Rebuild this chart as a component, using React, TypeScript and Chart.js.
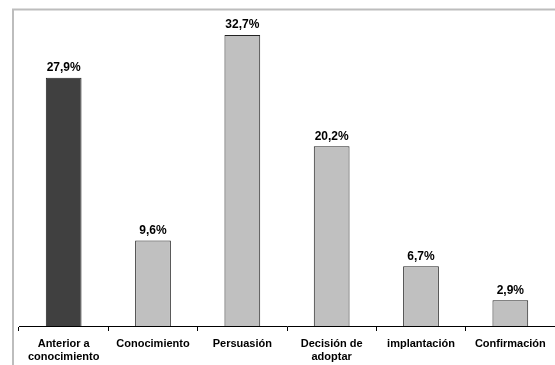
import React, { useEffect, useRef } from "react";
import { Chart, registerables } from "chart.js";

Chart.register(...registerables);

const categories: (string | string[])[] = [
  ["Anterior a", "conocimiento"],
  "Conocimiento",
  "Persuasión",
  ["Decisión de", "adoptar"],
  "implantación",
  "Confirmación",
];
const values: number[] = [27.9, 9.6, 32.7, 20.2, 6.7, 2.9];
const barColors: string[] = ["#404040", "#c0c0c0", "#c0c0c0", "#c0c0c0", "#c0c0c0", "#c0c0c0"];

const FONT = "'Liberation Sans', Arial, sans-serif";

const framePlugin = {
  id: "frame",
  beforeDraw(chart: any) {
    const ctx = chart.ctx;
    ctx.save();
    ctx.strokeStyle = "#bdbdbd";
    ctx.lineWidth = 2;
    ctx.beginPath();
    ctx.moveTo(13, chart.height);
    ctx.lineTo(13, 9.5);
    ctx.lineTo(chart.width, 9.5);
    ctx.stroke();
    ctx.restore();
  },
};

const labelPlugin = {
  id: "valueLabels",
  afterDatasetsDraw(chart: any) {
    const ctx = chart.ctx;
    const meta = chart.getDatasetMeta(0);
    ctx.save();
    ctx.font = `bold 12px ${FONT}`;
    ctx.fillStyle = "#000";
    ctx.textAlign = "center";
    ctx.textBaseline = "bottom";
    meta.data.forEach((bar: any, i: number) => {
      const txt = values[i].toFixed(1).replace(".", ",") + "%";
      ctx.fillText(txt, bar.x, bar.y - 4);
    });
    ctx.restore();
  },
};

export default function App() {
  const ref = useRef<HTMLCanvasElement | null>(null);
  useEffect(() => {
    if (!ref.current) return;
    const chart = new Chart(ref.current, {
      type: "bar",
      data: {
        labels: categories,
        datasets: [
          {
            data: values,
            backgroundColor: barColors,
            borderColor: "#222",
            borderWidth: 1,
            barPercentage: 0.4,
            categoryPercentage: 1,
          },
        ],
      },
      options: {
        responsive: false,
        animation: false,
        maintainAspectRatio: false,
        layout: { padding: { left: 19, right: 0, top: 14.5, bottom: 0 } },
        plugins: { legend: { display: false }, tooltip: { enabled: false } },
        scales: {
          y: { display: false, min: 0, max: 35 },
          x: {
            offset: true,
            border: { display: true, color: "#000", width: 1 },
            grid: { drawOnChartArea: false, drawTicks: true, tickLength: 5, color: "#000", offset: true },
            ticks: {
              color: "#000",
              font: { family: FONT, size: 11, weight: "bold", lineHeight: 1.2 },
              padding: 6,
              maxRotation: 0,
              autoSkip: false,
            },
            afterFit: (scale: any) => {
              scale.height = 39;
            },
          },
        },
      },
      plugins: [framePlugin, labelPlugin],
    });
    return () => chart.destroy();
  }, []);
  return (
    <div style={{ position: "fixed", left: 0, top: 0, width: 555, height: 365, background: "#fff" }}>
      <canvas ref={ref} width={555} height={365} style={{ width: 555, height: 365, display: "block" }} />
    </div>
  );
}
